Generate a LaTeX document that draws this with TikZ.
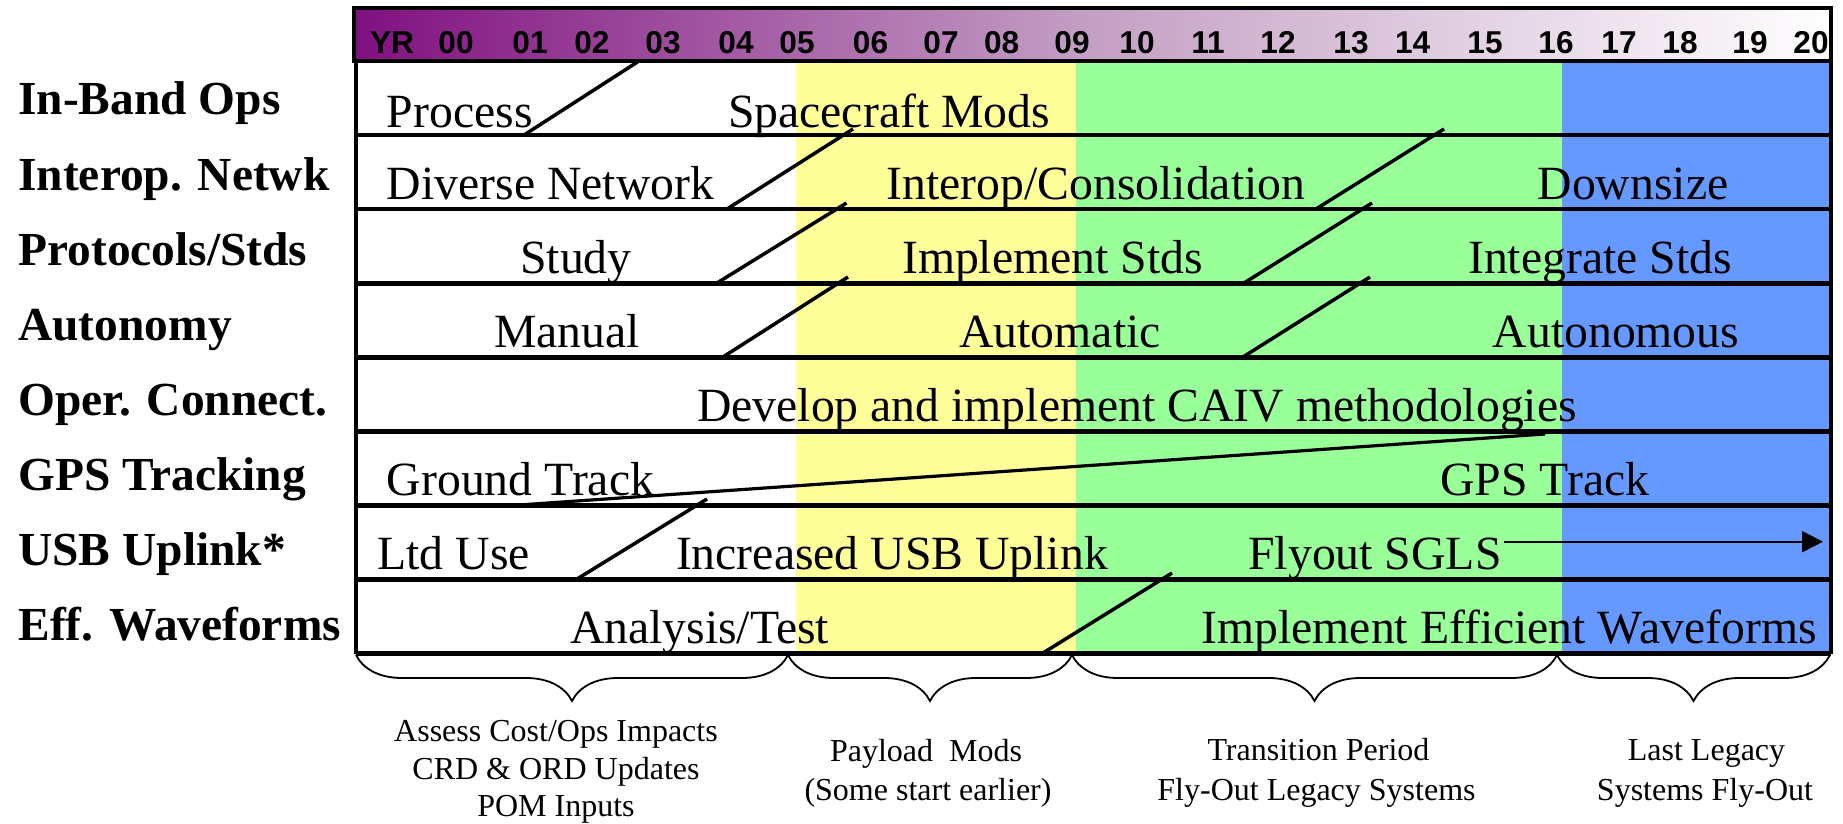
\documentclass[tikz,border=0pt]{standalone}
\usepackage{fontspec}
\setmainfont{Liberation Serif}
\newfontfamily\yrfont{Liberation Sans}
\usetikzlibrary{decorations.pathreplacing,arrows.meta}
\definecolor{bandY}{HTML}{FFFF99}
\definecolor{bandG}{HTML}{99FF99}
\definecolor{bandB}{HTML}{6699FF}
\definecolor{hdrpurple}{RGB}{128,16,128}
\definecolor{hdrmid}{RGB}{196,160,196}
\begin{document}
\begin{tikzpicture}[x=0.5pt,y=-0.5pt,
  rowtxt/.style={font=\fontsize{23.85pt}{28pt}\selectfont, inner sep=0pt, anchor=base},
  rowtxtL/.style={rowtxt, anchor=base west},
  lbl/.style={font=\bfseries\fontsize{23.7pt}{28pt}\selectfont, inner sep=0pt, anchor=base west},
  yr/.style={font=\yrfont\bfseries\fontsize{15.8pt}{18pt}\selectfont, inner sep=0pt, anchor=base},
  note/.style={font=\fontsize{16pt}{19pt}\selectfont, inner sep=0pt, anchor=base},
  rowline/.style={line width=2.25pt},
  trans/.style={line width=1.75pt},
  brc/.style={decorate, decoration={brace, mirror, amplitude=23pt}, line width=0.9pt}
]
\fill[white] (0,0) rectangle (1843,824);
\useasboundingbox (0,0) rectangle (1843,824);
% colour bands
\fill[bandY] (796,61) rectangle (1075.5,653);
\fill[bandG] (1075.5,61) rectangle (1562,653);
\fill[bandB] (1562,61) rectangle (1831,653);
% header
\shade[left color=hdrpurple, right color=white, middle color=hdrmid] (354,8) rectangle (1831,61);
\draw[line width=2pt] (354,8) rectangle (1831,61);
% years
\foreach \lab/\xx [count=\k] in {YR/392,00/456,01/530,02/592,03/663,04/736,05/797,06/870.5,07/941,08/1001.6,09/1072,10/1137,11/1208,12/1278,13/1351,14/1412.6,15/1485,16/1556,17/1619,18/1680,19/1750,20/1811}
  \node[yr] (yr\k) at (\xx,53.3) {\lab};
% row lines and borders
\foreach \i in {0,...,7}
  \draw[rowline] (356,135.2+74.04*\i) -- (1831,135.2+74.04*\i);
\draw[line width=2.4pt] (356,61) -- (356,654);
\draw[line width=1.8pt] (1831,61) -- (1831,654);
% left labels
\foreach \t [count=\k from 0] in {In-Band Ops,Interop. Netwk,Protocols/Stds,Autonomy,Oper. Connect.,GPS Tracking,USB Uplink*,Eff. Waveforms}
  \node[lbl] (lab\k) at (18,115+75.1*\k) {\t};
% row texts
\node[rowtxtL] (process) at (386.5,127.5) {Process};
\node[rowtxt] (scmods) at (889,127.5) {Spacecraft Mods};
\node[rowtxtL] (diverse) at (386.5,199.5) {Diverse Network};
\node[rowtxt] (interop) at (1096,199.5) {Interop/Consolidation};
\node[rowtxt] (downsize) at (1633,199.5) {Downsize};
\node[rowtxt] (study) at (576,273) {Study};
\node[rowtxt] (implstds) at (1052.5,273) {Implement Stds};
\node[rowtxt] (integstds) at (1600,273) {Integrate Stds};
\node[rowtxt] (manual) at (567,347) {Manual};
\node[rowtxt] (automatic) at (1060,347) {Automatic};
\node[rowtxt] (autonomous) at (1616,347) {Autonomous};
\node[rowtxt] (caiv) at (1137,421.5) {Develop and implement CAIV methodologies};
\node[rowtxtL] (ground) at (386.5,495) {Ground Track};
\node[rowtxt] (gpstrack) at (1545,495) {GPS Track};
\node[rowtxtL] (ltduse) at (377,569.5) {Ltd Use};
\node[rowtxt] (incusb) at (892,569.5) {Increased USB Uplink};
\node[rowtxt] (flyout) at (1375,569.5) {Flyout SGLS};
\node[rowtxt] (analysis) at (699.5,643.5) {Analysis/Test};
\node[rowtxt] (effwave) at (1509,643.5) {Implement Efficient Waveforms};
% transitions
\draw[trans] (524,135) -- (639,61);
\draw[trans] (727,209) -- (853,129);
\draw[trans] (1316,209) -- (1444,129);
\draw[trans] (717,283) -- (846.5,203);
\draw[trans] (1244,283) -- (1372,203);
\draw[trans] (723,357) -- (848,277);
\draw[trans] (1243,357) -- (1370,277);
\draw[line width=1.6pt] (519,505) -- (1545,434);
\draw[trans] (577,579) -- (707,499);
\draw[trans] (1043,653) -- (1172,573);
% arrow
\coordinate (arrS) at (1504,541.7);
\coordinate (arrE) at (1823,541.7);
\draw[line width=1pt, -{Triangle[length=10.5pt,width=10.5pt]}] (arrS) -- (arrE);
% braces
\coordinate (b0) at (356,655);
\coordinate (b1) at (788,655);
\coordinate (b2) at (1072,655);
\coordinate (b3) at (1557,655);
\coordinate (b4) at (1830,655);
\draw[brc] (b0) -- (b1);
\draw[brc] (b1) -- (b2);
\draw[brc] (b2) -- (b3);
\draw[brc] (b3) -- (b4);
% notes
\node[note] (n1a) at (556,741.7) {Assess Cost/Ops Impacts};
\node[note] (n1b) at (556,779.3) {CRD \& ORD Updates};
\node[note] (n1c) at (556,816.7) {POM Inputs};
\node[note] (n2a) at (926,761.7) {Payload~~Mods};
\node[note] (n2b) at (928,800) {(Some start earlier)};
\node[note] (n3a) at (1318.5,760.7) {Transition Period};
\node[note] (n3b) at (1316.5,800) {Fly-Out Legacy Systems};
\node[note] (n4a) at (1706.5,760.7) {Last Legacy};
\node[note] (n4b) at (1705,800) {Systems Fly-Out};
\end{tikzpicture}
\end{document}
